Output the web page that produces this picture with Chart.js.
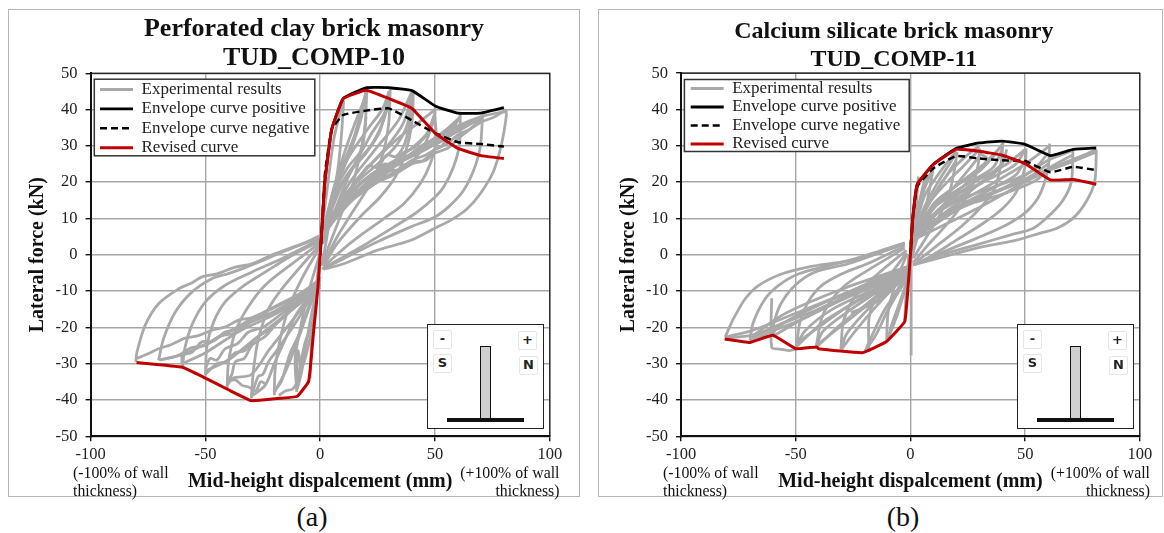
<!DOCTYPE html>
<html>
<head>
<meta charset="utf-8">
<script src="https://cdn.jsdelivr.net/npm/chart.js@4"></script>
<style>
  html, body { margin: 0; padding: 0; background: #fff; overflow: hidden; }
  body { width: 1164px; height: 533px; position: relative; font-family: "Liberation Serif", serif; color: #111; }
  .frame { position: absolute; top: 9px; height: 488px; border: 1.5px solid #b5b5b5; box-sizing: border-box; }
  canvas { position: absolute; top: 9.5px; }
  .note { position: absolute; font-size: 15.8px; line-height: 18px; white-space: nowrap; }
  .cap { position: absolute; top: 499px; font-size: 28px; line-height: 36px; transform: translateX(-50%); }
  .inset { position: absolute; top: 324px; height: 105px; border: 1.5px solid #222; background: #fff; box-sizing: border-box; }
  .inset b { position: absolute; width: 19px; height: 19px; line-height: 18px; text-align: center; border: 1.5px solid #e6e6e6;
    border-radius: 2px; font: bold 13px "DejaVu Sans", sans-serif; color: #222; box-sizing: border-box; }
  .inset i { position: absolute; display: block; box-sizing: border-box; }
  .wall { top: 21px; height: 74px; width: 11px; background: #cfcfcf; border: 1.5px solid #111; }
  .base { top: 93px; height: 4px; width: 77px; background: #111; }
</style>
</head>
<body>
<div class="frame" style="left:8px;width:572px"></div>
<div class="frame" style="left:598px;width:565px"></div>
<canvas id="clayChart"></canvas>
<canvas id="silicateChart"></canvas>

<div class="note" style="left:73px;top:464px">(-100% of wall<br>thickness)</div>
<div class="note" style="right:604.5px;top:464px;text-align:right">(+100% of wall<br>thickness)</div>
<div class="note" style="left:663px;top:464px">(-100% of wall<br>thickness)</div>
<div class="note" style="right:14px;top:464px;text-align:right">(+100% of wall<br>thickness)</div>
<div class="cap" style="left:312px">(a)</div>
<div class="cap" style="left:903px">(b)</div>

<div class="inset" style="left:427px;width:117px">
  <b style="left:5px;top:5px">-</b><b style="left:5px;top:29px">S</b>
  <b style="left:90px;top:6px">+</b><b style="left:91px;top:31px">N</b>
  <i class="wall" style="left:52px"></i><i class="base" style="left:19px"></i>
</div>
<div class="inset" style="left:1017px;width:117px">
  <b style="left:5px;top:5px">-</b><b style="left:5px;top:29px">S</b>
  <b style="left:90px;top:6px">+</b><b style="left:91px;top:31px">N</b>
  <i class="wall" style="left:52px"></i><i class="base" style="left:19px"></i>
</div>

<script>
var xTickValues = [-100, -50, 0, 50, 100];
var yTickValues = [-50, -40, -30, -20, -10, 0, 10, 20, 30, 40, 50];

var seriesNames = ["Experimental results", "Envelope curve positive", "Envelope curve negative", "Revised curve"];

// (a) perforated clay brick
var clayEnvX = [0, 1, 2, 5, 10, 20, 30, 40, 50, 60, 70, 80];
var clayEnvPos = [0, 10, 20, 34.5, 43, 46, 46, 45.2, 41, 39, 39, 40.5];
var clayEnvNeg = [0, 10, 22, 34.5, 38.5, 39.7, 40.3, 37, 33.5, 31, 30.5, 29.8];
var clayRevisedX = [-80, -60, -50, -40, -30, -20, -10, -5, -3, -1, 0, 1, 2, 5, 10, 20, 30, 40, 50, 60, 70, 80];
var clayRevisedY = [-29.7, -31, -34, -37.2, -40.2, -39.7, -39, -34.8, -22, -9, 0, 10, 20, 34.5, 43, 45.3, 43, 40.3, 33.5, 29.3, 27.3, 26.5];

var clayUnloadPos = [
  [[81, 40], [81, 37.9], [79, 30.5], [75.5, 23], [69.7, 16.8], [63.9, 12.6], [56.6, 9.4], [50.8, 7.6], [39.2, 3.9], [24.7, 1.2], [10.2, -2.5], [1.5, -4]],
  [[71, 39], [70.7, 37.9], [69.7, 29.6], [66.8, 23.2], [62.4, 17.7], [56.6, 13.6], [50, 10.4], [39.2, 7.6], [24.7, 3.5], [10.2, -1.1], [1.5, -3.9]],
  [[61, 39], [61, 37.9], [60.7, 30.5], [58, 24.1], [53.7, 18.6], [50, 15.9], [42.1, 11.7], [32, 7.6], [17.4, 2], [7.3, -1.6], [1, -4]],
  [[50, 40.5], [50, 37.9], [50.5, 31.5], [47.9, 25], [43.5, 19.5], [36.3, 14], [27.6, 9.9], [14.5, 3.9], [4.4, -1.6], [1, -4]],
  [[40.6, 45], [39.9, 36], [37, 27.8], [32.7, 21.4], [26.1, 15.9], [17.4, 10.4], [7.3, 3], [1.5, -3]],
  [[30.5, 45.5], [29.8, 36], [26.9, 26.9], [21.8, 19.5], [14.5, 12.2], [7.3, 4.8], [1.5, -2.5]],
  [[20.3, 45.5], [19.6, 36], [17.4, 27.8], [13.8, 18.6], [8.7, 10.4], [3.6, 2.1], [0.8, -3]],
  [[10.2, 42.5], [9.4, 34.2], [8, 25], [5.8, 15.9], [2.9, 4.8], [0.8, -3]]
];
var clayReloadPos = [
  [[0, 3], [3, 18], [6, 32], [10, 42.5]],
  [[0, 3], [5, 16], [10, 25], [15, 33], [20, 45]],
  [[0, 4], [6, 17], [12, 24], [18, 29], [20, 38]],
  [[0, 3], [6, 14], [12, 22], [20, 28], [26, 34], [30, 44]],
  [[0, 4], [7, 17], [14, 24], [22, 30], [27, 36], [30, 42]],
  [[0, 4], [8, 14], [16, 20], [25, 25], [33, 30], [38, 36], [40, 44]],
  [[0, 4], [9, 15], [17, 21], [21, 24.5], [25, 24], [29, 27.5], [33, 27], [37, 31], [40, 39]],
  [[0, 4], [10, 13], [15, 17], [20, 19], [23, 21], [26, 20.5], [30, 23.5], [35, 25], [38, 24.5], [42, 27], [46, 31], [50, 38]],
  [[0, 5], [10, 15], [18, 20], [24, 22.5], [28, 25], [32, 24.5], [36, 28], [41, 29.5], [45, 32], [48, 34.5], [50, 39]],
  [[0, 5], [10, 14], [20, 19], [26, 21], [30, 23], [35, 23.5], [40, 25.5], [45, 26], [50, 29], [53, 30], [56, 33], [61, 38]],
  [[0, 5], [12, 16], [22, 22], [32, 25.5], [38, 27], [44, 30], [50, 32], [55, 34.5], [60, 37]],
  [[0, 5], [12, 15], [25, 20], [32, 22], [40, 25], [46, 26], [50, 28], [56, 29.5], [60, 32], [66, 35], [71, 38]],
  [[0, 5], [14, 16], [27, 22], [38, 27], [46, 29.5], [52, 31], [58, 34], [64, 36], [70, 38]],
  [[0, 5], [10, 13], [25, 20], [33, 23], [40, 26], [46, 27.5], [50, 29], [55, 30.5], [60, 33], [65, 34.5], [70, 36.5], [76, 38], [81, 40]],
  [[0, 5], [14, 15], [28, 22], [40, 28], [50, 32], [60, 35.5], [70, 38], [81, 39.5]],
  [[1, 3], [5, 16], [10, 27], [15, 36], [20, 44]],
  [[1, 3], [8, 20], [14, 30], [18, 38], [20, 45]],
  [[1, 4], [10, 24], [20, 34], [27, 40], [30, 45]],
  [[1, 3], [12, 21], [22, 33], [28, 39], [30, 45]],
  [[1, 4], [12, 19], [24, 29], [34, 37], [40, 45]],
  [[1, 5], [15, 20], [28, 29], [36, 36], [40, 44]],
  [[2, 8], [18, 22], [32, 31], [42, 36], [50, 40]],
  [[2, 8], [20, 21], [35, 27], [46, 33], [50, 39]],
  [[3, 8], [22, 21], [40, 28], [54, 34], [61, 38]],
  [[3, 9], [25, 22], [42, 28], [56, 34], [61, 38]],
  [[4, 10], [28, 23], [46, 29], [60, 34], [71, 38]]
];
var clayUnloadNeg = [
  [[-80.3, -29.5], [-79.8, -26.8], [-76.2, -19.4], [-70.4, -13.5], [-61.7, -9.4], [-56, -7.8], [-51.5, -6.1], [-45, -5.3], [-37, -3.4], [-30, -2.6], [-19.6, 0.3], [-8, 3], [0, 5.3]],
  [[-70.4, -29.1], [-68.2, -23.1], [-63.1, -15.8], [-55.9, -10.3], [-47.2, -6.6], [-40, -5.2], [-34.1, -3.9], [-25, -1.6], [-16.7, 0.7], [0, 4.8]],
  [[-60, -31], [-59, -25.9], [-55.9, -19.4], [-50, -13], [-41.4, -8.4], [-29.8, -4.8], [-15.2, -0.6], [0, 4.3]],
  [[-50, -33.2], [-49.3, -25], [-46.4, -18.5], [-41.4, -13], [-34.1, -8.9], [-24, -4.8], [-12.3, -0.2], [0, 3.8]],
  [[-40.6, -36.9], [-39.9, -29.5], [-37, -21.3], [-31.9, -14.9], [-24, -8.4], [-12.3, -2.5], [0, 3.3]],
  [[-30, -39.6], [-29, -31.4], [-26.9, -23.1], [-22.5, -14.9], [-16.7, -9.4], [-8, -2.9], [0, 2.8]],
  [[-20, -38.7], [-19.6, -31.4], [-17.4, -23.1], [-13.8, -14.9], [-8, -6.6], [0, 2.3]],
  [[-10.2, -37.8], [-10.9, -28.6], [-8.7, -20.4], [-5.1, -10.3], [0, 0.5]],
  [[-4.4, -34], [-3.6, -22], [-1.5, -7.5], [0, 0]]
];
var clayReloadNeg = [
  [[0, -6.6], [-6, -9.5], [-12.3, -12.1], [-18, -14], [-24, -15.8], [-30, -17.4], [-35.6, -18], [-41, -19.8], [-47.2, -20.8], [-53, -22.3], [-58.8, -23], [-65, -24.8], [-70.4, -25.9], [-75, -27.3], [-79.8, -28.6]],
  [[0, -7], [-8, -11], [-15, -14], [-22, -16.5], [-30, -18.5], [-37, -21.5], [-44, -22.5], [-50, -25], [-56, -25.6], [-62, -27.8], [-70, -29]],
  [[0, -7.5], [-15.2, -13.9], [-23, -16.5], [-29.8, -17.6], [-36, -20.5], [-41.4, -21.3], [-47, -24], [-51.5, -24], [-56, -27], [-60, -27.7], [-60.2, -30]],
  [[0, -8], [-10, -13], [-19.6, -17.6], [-25, -20], [-31.2, -21.3], [-36, -24.5], [-41.4, -25.9], [-45, -29], [-48, -28.6], [-50, -31.4]],
  [[0, -8.5], [-12, -15], [-22, -20.5], [-28, -23], [-33, -26.5], [-37, -27], [-41, -29.5], [-45, -30], [-50, -33]],
  [[-6.5, -10.3], [-13, -15], [-19.6, -19.4], [-24, -22.5], [-29.8, -25], [-33, -28.5], [-37, -29.5], [-38.5, -33], [-40.6, -34.9]],
  [[-2, -9.3], [-9, -17], [-15.2, -23], [-19, -26.5], [-22.5, -29.5], [-25, -33], [-27, -33.5], [-29.8, -38.7]],
  [[-24, -35.5], [-26, -35], [-28, -37.5], [-31, -36.5], [-34, -36], [-37, -34.5], [-40, -34.8]],
  [[-2.2, -9.4], [-6, -16], [-9.4, -22.2], [-13, -27], [-15.2, -31.4], [-17, -35], [-20.3, -37.8]],
  [[-1.5, -13], [-4, -20], [-6.5, -24], [-8.5, -30], [-10, -35], [-12, -37], [-15, -37.5], [-18, -38.8]],
  [[-1, -9], [-3, -18], [-5.5, -26], [-8, -31], [-9.7, -26.5], [-10.2, -36]],
  [[0, -8], [-10, -16], [-15, -23], [-20, -30], [-24, -36], [-30, -39]],
  [[0, -7], [-5, -15], [-10, -24], [-15, -32], [-20, -38]],
  [[0, -6], [-3, -14], [-6, -24], [-8, -32], [-10, -37]],
  [[0, -8], [-12, -18], [-22, -26], [-30, -33], [-38, -34], [-40.5, -36]],
  [[0, -9], [-18, -18], [-30, -24], [-40, -29], [-50, -32]],
  [[0, -9], [-20, -16.5], [-35, -21], [-50, -27], [-60, -30]],
  [[0, -8], [-25, -16], [-45, -23], [-60, -27.5], [-70, -29]]
];

// (b) calcium silicate brick
var silicateEnvX = [0, 1, 3, 10, 20, 30, 40, 50, 61, 71, 81];
var silicateEnvPos = [0, 10, 19.4, 24.9, 29.3, 30.8, 31.3, 30.4, 27.3, 29, 29.4];
var silicateEnvNeg = [0, 10, 18.8, 23.8, 27.2, 26.5, 26, 25.8, 22.7, 24.2, 23.3];
var silicateRevisedX = [-81, -70, -60, -50, -41, -40, -21, -10.4, -2.5, -1, 0, 1, 3, 10, 20, 30, 40, 50, 61, 71, 81];
var silicateRevisedY = [-23.2, -24.2, -22.2, -25.9, -25.4, -25.9, -27, -23.9, -18.4, -8.5, 0, 10, 19.4, 24.9, 29, 28.5, 27.4, 25.1, 20.6, 20.7, 19.4];

var silicateUnloadPos = [
  [[81, 29], [81, 27.4], [80.3, 20.1], [76.6, 14.6], [70.8, 10], [63.6, 7.2], [56.3, 5.9], [46.2, 4], [31.6, 2.2], [14.2, -0.6], [1.2, -2.8]],
  [[70.8, 28.8], [70.8, 27.4], [70.1, 20], [66.5, 15], [60.7, 10.9], [53.4, 7.2], [43.3, 5.4], [28.7, 2.7], [12.8, -0.1], [1.2, -2.8]],
  [[60.7, 30.6], [60, 23.8], [56.3, 16.4], [50.5, 11.8], [41.8, 8.2], [28.7, 4.5], [12.8, 0.4], [1.2, -2.8]],
  [[50.5, 29.3], [49.8, 23.8], [46.2, 17.3], [40.3, 12.8], [31.6, 8.6], [20, 4], [8.4, -0.6], [1.2, -2.8]],
  [[40.3, 31.1], [39.6, 25.6], [36.8, 18.3], [31.6, 13.7], [22.9, 8.2], [12.8, 3.1], [2.6, -1.9]],
  [[30.2, 29.3], [29.5, 24.7], [26.6, 18.3], [21.5, 12.8], [14.2, 7.2], [7, 2.2], [1.2, -2.2]],
  [[20.3, 28.3], [19.3, 23.8], [17.1, 17.3], [13.5, 11.8], [8.4, 6.3], [1.2, -1]],
  [[9.9, 23.8], [8.4, 18.3], [6.2, 11.8], [3.3, 5.4], [0.5, -1]],
  [[3.5, 21.5], [3, 18], [2.2, 9], [0.5, 0]]
];
var silicateReloadPos = [
  [[0, 3], [3, 12], [6, 18], [10, 24]],
  [[0, 3], [6, 13], [12, 20], [17, 25], [20, 28]],
  [[0, 3], [8, 14], [16, 20], [24, 25], [30, 29]],
  [[0, 3], [10, 11], [20, 17], [28, 22], [34, 26], [30, 28]],
  [[0, 3], [10, 13], [20, 19], [30, 23], [36, 27], [40, 30.5]],
  [[0, 3], [12, 12], [24, 17], [34, 21], [40, 25], [42, 29]],
  [[0, 3], [10, 13], [25, 18], [38, 22], [46, 25], [50, 29]],
  [[0, 3], [13, 10], [26, 15], [38, 19], [46, 22], [50, 26]],
  [[0, 3.6], [10, 11], [25, 16], [40, 19.5], [53, 23], [60, 28]],
  [[0, 3.6], [12, 10], [26, 14], [40, 18], [52, 21.5], [60, 25]],
  [[0, 3.6], [9.9, 9], [24.4, 13.7], [39, 16.4], [53.4, 20], [60.7, 23.3], [70.8, 25.6], [81, 28.3]],
  [[0, 3.6], [12, 10], [26, 15], [40, 18], [54, 21.5], [62, 24.5], [70.8, 27.5]],
  [[0, 3.6], [14, 10], [28, 15], [42, 18.5], [56, 22], [66, 25], [74, 27], [81, 29]],
  [[0.5, 3], [6, 16], [12, 22], [18, 27], [20, 28.5]],
  [[0.5, 3], [8, 14], [16, 22], [24, 27], [30, 30]],
  [[0.5, 3], [10, 14], [20, 19], [32, 25], [40, 30]],
  [[0.5, 3], [14, 13], [28, 20], [42, 25], [50, 29]],
  [[0.5, 4], [12, 14], [26, 20], [36, 24], [40, 29]],
  [[1, 4], [18, 13], [34, 19], [50, 25], [60.7, 30]],
  [[1, 4], [22, 13], [44, 19.5], [60, 26], [70, 28.5]],
  [[1, 4], [30, 13], [50, 20], [66, 25], [81, 28.5]],
  [[1, 5], [6, 20], [10, 23]],
  [[2, 8], [12, 18], [20, 26]],
  [[2, 8], [18, 18], [30, 27]],
  [[2, 8], [25, 17], [40, 25]]
];
var silicateUnloadNeg = [
  [[-80.8, -22.7], [-77.2, -17.7], [-72.1, -12.2], [-66.3, -8.5], [-56.2, -5.3], [-44.6, -3.4], [-27.1, -1.6], [-12.6, 1.2], [-2.5, 3.3]],
  [[-70, -23.6], [-68.5, -18.6], [-63.4, -12.2], [-57.6, -8.5], [-48.9, -5.3], [-35.8, -3], [-19.9, -0.7], [-2.5, 3]],
  [[-60.5, -12], [-60.5, -25.5], [-57, -26], [-53, -26.4], [-50, -26]],
  [[-60.2, -22], [-59.8, -19.5], [-56.9, -14], [-50.4, -8.5], [-41.7, -4.8], [-27.1, -2.5], [-12.6, 0.7], [-2.5, 3]],
  [[-49.6, -25], [-48.2, -18.6], [-44.6, -13], [-38.8, -8.5], [-30, -5.3], [-17, -2], [-2.5, 2.4]],
  [[-41, -25], [-38.8, -17.7], [-35.1, -13], [-28.6, -8.5], [-19.9, -4.8], [-2.5, 1.8]],
  [[-30.3, -26], [-29.3, -18.6], [-25.7, -13], [-19.9, -8.5], [-12.6, -4.4], [-1.7, 1.2]],
  [[-18.1, -26.8], [-18.1, -17.7], [-15.5, -12.2], [-11.2, -7.6], [-1.7, 0.5]],
  [[-10.4, -23.6], [-9.7, -15.8], [-6.8, -8.5], [-1.7, 0]],
  [[-2.5, -18], [-1.7, -8.5], [-0.7, 0]],
  [[0.3, 0], [0.3, -27.8]]
];
var silicateReloadNeg = [
  [[0, -3], [-12.6, -6.2], [-27.1, -10.3], [-41.7, -14], [-56.2, -17.7], [-69.2, -20.9], [-80.8, -22.7]],
  [[0, -3.5], [-14, -7.5], [-28, -11.5], [-42, -15.5], [-56, -19], [-68, -22], [-80.5, -23]],
  [[0, -3.5], [-19.9, -9], [-37.3, -13.1], [-56.2, -19], [-70, -23.2]],
  [[0, -4], [-16, -8], [-32, -13], [-48, -18], [-60, -21], [-70, -24]],
  [[0, -4], [-15, -8.5], [-30, -12.5], [-45, -17], [-60, -22.5]],
  [[0, -4.5], [-12, -9], [-25, -13.5], [-38, -18.5], [-50, -25.5]],
  [[0, -4.5], [-14, -9], [-28, -14.5], [-40, -20], [-50, -24.5]],
  [[0, -5], [-10, -9], [-20, -14], [-30, -19], [-41, -25.5]],
  [[0, -5], [-11, -10], [-22, -15.5], [-32, -20.5], [-41, -25]],
  [[0, -5], [-8, -9.5], [-16, -15], [-24, -21], [-30, -26]],
  [[0, -5], [-5, -10], [-10, -15.5], [-15, -22], [-20, -26.8]],
  [[0, -5], [-3, -11], [-6, -17], [-10, -23.5]],
  [[0, -3], [-6, -10], [-12, -16], [-18, -24], [-20, -27]],
  [[0, -4], [-10, -10], [-20, -16], [-28, -22], [-30, -26]],
  [[0, -4], [-14, -10], [-28, -16], [-38, -21], [-41, -25]],
  [[0, -4], [-16, -9.5], [-34, -15], [-46, -21], [-50, -25.5]],
  [[0, -3], [-22, -9], [-44, -15], [-58, -20], [-60.5, -22.5]],
  [[0, -3], [-30, -9.5], [-54, -16], [-68, -22], [-70, -23.5]],
  [[0, -4], [-4, -12], [-8, -19], [-10, -23.5]],
  [[0, -3.5], [-6, -8], [-12, -12], [-18, -14], [-26, -16]]
];

function toPoints(xs, ys) {
  var arr = [];
  for (var i = 0; i < xs.length; i++) {
    arr.push({ x: xs[i], y: ys[i] });
  }
  return arr;
}

function pairsToPoints(pairs) {
  return pairs.map(function (p) { return { x: p[0], y: p[1] }; });
}

function greySet(pairs, label) {
  return {
    label: label,
    data: pairsToPoints(pairs),
    borderColor: "#a9a9a9",
    backgroundColor: "#a9a9a9",
    borderWidth: 2.8,
    tension: 0.3,
    order: 10
  };
}

function buildDatasets(cycles, envX, envPos, envNeg, revX, revY) {
  var sets = [greySet(cycles[0], seriesNames[0])];
  sets.push({ label: seriesNames[1], data: toPoints(envX, envPos), borderColor: "#000", backgroundColor: "#000", borderWidth: 2.8, tension: 0.12, order: 3 });
  sets.push({ label: seriesNames[2], data: toPoints(envX, envNeg), borderColor: "#000", backgroundColor: "#000", borderWidth: 2.5, borderDash: [7, 4], tension: 0.12, order: 2 });
  sets.push({ label: seriesNames[3], data: toPoints(revX, revY), borderColor: "#c00000", backgroundColor: "#c00000", borderWidth: 3, tension: 0.1, order: 1 });
  for (var i = 1; i < cycles.length; i++) {
    sets.push(greySet(cycles[i], ""));
  }
  return sets;
}

// point-style legend items lose the line style, put it back
function legendItems(chart) {
  var items = Chart.defaults.plugins.legend.labels.generateLabels(chart);
  items.forEach(function (item) {
    var ds = chart.data.datasets[item.datasetIndex];
    item.strokeStyle = ds.borderColor;
    item.lineWidth = ds.borderWidth;
    item.lineDash = ds.borderDash || [];
  });
  return items;
}

// title offset, plot box outline and legend on top of its white box
var extrasPlugin = {
  id: "extras",
  beforeDraw: function (chart) {
    var o = chart.options.plugins.extras;
    var t = chart.titleBlock;
    var w = t.right - t.left;
    t.left = o.titleCenter - w / 2;
    t.right = o.titleCenter + w / 2;
    var l = chart.legend;
    var pad = l.options.labels.padding;
    l.left = o.legendX - pad;
    l.top = o.legendY - pad;
  },
  afterDatasetsDraw: function (chart) {
    var o = chart.options.plugins.extras;
    var c = chart.ctx, a = chart.chartArea;
    c.save();
    c.strokeStyle = "#111";
    c.lineWidth = 1.2;
    c.strokeRect(a.left, a.top, a.right - a.left, a.bottom - a.top);
    c.fillStyle = "#fff";
    c.strokeStyle = "#333";
    c.lineWidth = 1.5;
    c.fillRect(o.box[0], o.box[1], o.box[2], o.box[3]);
    c.strokeRect(o.box[0], o.box[1], o.box[2], o.box[3]);
    c.restore();
    chart.legend.draw();
  }
};

function makeChart(id, left, width, rightPad, yAxisW, titleLines, titleSize, titleLine, titlePad, titleCenter, legendSpacing, legendX, legendY, box, datasets) {
  var canvas = document.getElementById(id);
  canvas.style.left = left + "px";
  canvas.style.width = width + "px";
  canvas.style.height = "488px";
  canvas.width = width;
  canvas.height = 488;
  return new Chart(canvas, {
    type: "line",
    data: { datasets: datasets },
    plugins: [extrasPlugin],
    options: {
      responsive: false,
      animation: false,
      elements: { point: { radius: 0 } },
      layout: { padding: { right: rightPad } },
      plugins: {
        tooltip: { enabled: false },
        title: {
          display: true,
          text: titleLines,
          color: "#111",
          font: { family: "Liberation Serif", size: titleSize, weight: "bold", lineHeight: titleLine },
          padding: titlePad
        },
        legend: {
          position: "chartArea",
          align: "start",
          labels: {
            usePointStyle: true,
            pointStyle: "line",
            pointStyleWidth: 33,
            padding: legendSpacing,
            color: "#222",
            font: { family: "Liberation Serif", size: 17, lineHeight: 1 },
            generateLabels: legendItems,
            filter: function (item) { return item.text !== ""; },
            sort: function (a, b) { return a.datasetIndex - b.datasetIndex; }
          }
        },
        extras: { titleCenter: titleCenter, legendX: legendX, legendY: legendY, box: box }
      },
      scales: {
        x: {
          type: "linear",
          min: -100,
          max: 100,
          afterBuildTicks: function (s) { s.ticks = xTickValues.map(function (v) { return { value: v }; }); },
          afterFit: function (s) { s.height = 61.8; },
          grid: { color: "#a6a6a6", lineWidth: 1.4, tickColor: "#111", tickLength: 5 },
          border: { color: "#111", width: 2 },
          ticks: { color: "#222", padding: 4, maxRotation: 0, font: { family: "Liberation Serif", size: 16.5 } },
          title: {
            display: true,
            text: "Mid-height dispalcement (mm)",
            color: "#111",
            font: { family: "Liberation Serif", size: 20, weight: "bold" },
            padding: { top: 0, bottom: 4 }
          }
        },
        y: {
          min: -50,
          max: 50,
          afterBuildTicks: function (s) { s.ticks = yTickValues.map(function (v) { return { value: v }; }); },
          afterFit: function (s) { s.width = yAxisW; },
          grid: { color: "#a6a6a6", lineWidth: 1.4, tickColor: "#111", tickLength: 5 },
          border: { color: "#111", width: 2 },
          ticks: { color: "#222", padding: 8, font: { family: "Liberation Serif", size: 16.5 } },
          title: {
            display: true,
            text: "Lateral force (kN)",
            color: "#111",
            font: { family: "Liberation Serif", size: 20, weight: "bold" },
            padding: { top: 18, bottom: 0 }
          }
        }
      }
    }
  });
}

var clayCycles = clayUnloadPos.concat(clayReloadPos, clayUnloadNeg, clayReloadNeg);
var silicateCycles = silicateUnloadPos.concat(silicateReloadPos, silicateUnloadNeg, silicateReloadNeg);

makeChart("clayChart", 8, 571, 29.2, 82.6, ["Perforated clay brick masonry", "TUD_COMP-10"], 26, 1.12,
  { top: 5, bottom: 0 }, 306, 2.4, 92, 71, [86.3, 69.2, 220.5, 76.6],
  buildDatasets(clayCycles, clayEnvX, clayEnvPos, clayEnvNeg, clayRevisedX, clayRevisedY));

makeChart("silicateChart", 599, 564, 23.2, 82.1, ["Calcium silicate brick masonry", "TUD_COMP-11"], 24, 1.15,
  { top: 8, bottom: 0 }, 294.8, 1.5, 91.7, 70, [85.4, 69.5, 224.8, 72],
  buildDatasets(silicateCycles, silicateEnvX, silicateEnvPos, silicateEnvNeg, silicateRevisedX, silicateRevisedY));
</script>
</body>
</html>
